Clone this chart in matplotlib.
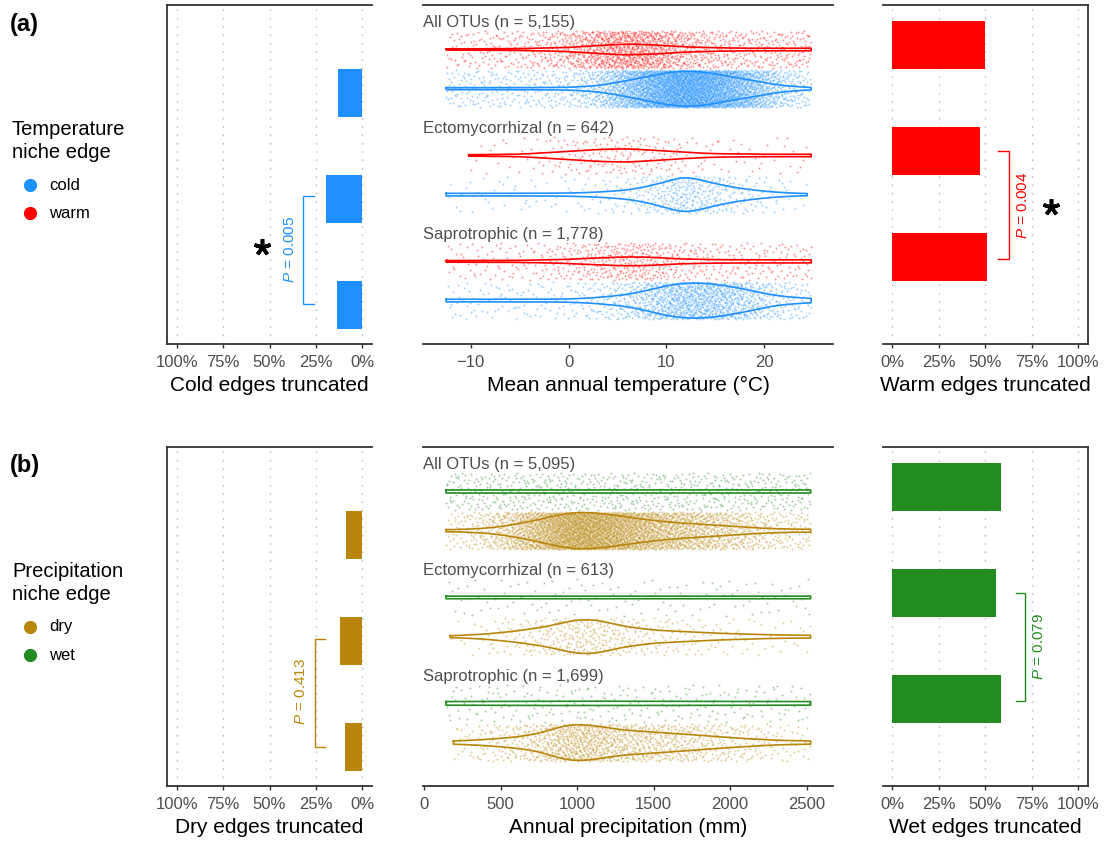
import numpy as np
import matplotlib
matplotlib.use("Agg")
import matplotlib.pyplot as plt
from matplotlib.lines import Line2D

plt.rcParams['font.family'] = ['Liberation Sans', 'DejaVu Sans']
plt.rcParams['mathtext.fontset'] = 'custom'
plt.rcParams['mathtext.it'] = 'Liberation Sans:italic'
plt.rcParams['mathtext.rm'] = 'Liberation Sans'

# ---------------- data ----------------
groups = ["All OTUs", "Ectomycorrhizal", "Saprotrophic"]
temp_n = ["5,155", "642", "1,778"]
precip_n = ["5,095", "613", "1,699"]

cold_trunc = [13.0, 19.5, 13.5]      # % cold edges truncated
warm_trunc = [49.7, 47.3, 51.1]      # % warm edges truncated
dry_trunc = [8.6, 11.9, 9.6]         # % dry edges truncated
wet_trunc = [58.2, 55.9, 58.2]       # % wet edges truncated

p_cold, p_warm, p_dry, p_wet = "0.005", "0.004", "0.413", "0.079"

# violin outlines: x knots and half-widths (pixels)
warm_all_x = [-12.5, -5, 0, 3, 6, 9, 12, 16, 20, 24.8]
warm_all_w = [0.6, 0.9, 2.0, 4.0, 5.5, 4.5, 2.5, 1.5, 1.2, 1.3]
cold_all_x = [-12.5, -5, 0, 3, 6, 8, 10, 12, 14, 16, 18, 20, 22, 24.8]
cold_all_w = [1, 1, 1.3, 3, 8, 12, 16, 18, 16.5, 13, 9.5, 6, 3, 1]
warm_ecm_x = [-10.2, -5, 0, 3, 6, 9, 12, 15, 20, 24.8]
warm_ecm_w = [0.7, 1.2, 4, 6, 6.7, 5, 3, 1.7, 1.2, 1.2]
cold_ecm_x = [-12.5, -5, 0, 3, 6, 8, 10, 11.7, 13, 15, 17, 19, 21, 23, 24.4]
cold_ecm_w = [1.3, 1.3, 1.5, 2.5, 4.5, 8, 13, 18, 16, 11, 7, 4.5, 2.5, 1.5, 1]
warm_sap_x = [-12.5, -5, 0, 3, 6, 9, 11, 15, 20, 24.8]
warm_sap_w = [0.8, 1, 2, 3.5, 4.5, 4, 2.5, 1.7, 1.5, 1.5]
cold_sap_x = [-12.5, -5, 0, 3, 6, 8, 10, 12, 14, 16, 18, 20, 22, 24.8]
cold_sap_w = [1.3, 1.3, 1.5, 3, 6, 10, 15, 17.7, 17.5, 15, 11.5, 7, 4, 2]

wet_all_x = [144, 1000, 2526]
wet_all_w = [1.5, 1.7, 1.5]
dry_all_x = [144, 300, 450, 600, 750, 900, 1000, 1100, 1250, 1400, 1600, 1800, 2000, 2200, 2400, 2526]
dry_all_w = [1, 1.5, 3, 6.5, 11, 16.5, 18.5, 18, 15.5, 12, 8.5, 6.5, 4.5, 2.5, 1.5, 1.5]
wet_ecm_x = [144, 1000, 2526]
wet_ecm_w = [1.3, 1.4, 1.3]
dry_ecm_x = [170, 400, 600, 800, 950, 1050, 1150, 1300, 1500, 1700, 1900, 2100, 2300, 2526]
dry_ecm_w = [0.8, 2.5, 5.5, 10, 15.5, 17.5, 16, 10.5, 6.5, 5, 3.5, 2.5, 1.7, 1.3]
wet_sap_x = [144, 1000, 2526]
wet_sap_w = [1.8, 2.2, 1.8]
dry_sap_x = [192, 400, 600, 750, 850, 950, 1050, 1150, 1300, 1500, 1700, 1900, 2100, 2300, 2526]
dry_sap_w = [1.5, 3, 5.5, 9, 14, 18, 18, 16, 12.5, 10.5, 8.5, 6, 4, 2.3, 1.5]

# approximate number of visible jittered points per cloud
cold_pts = [3800, 420, 1300]
warm_pts = [1500, 230, 600]
dry_pts = [3800, 430, 1250]
wet_pts = [650, 120, 240]

# ---------------- styling ----------------
COLD, WARM, DRY, WET = '#1E90FF', '#FF0000', '#B8860B', '#228B22'
SPINE = '#333333'
TICKC = '#4D4D4D'
W, H = 1107, 842
PX_PER_UNIT = 339 / 3.2

fig = plt.figure(figsize=(W / 100, H / 100), dpi=100)


def px_axes(x0, y0, x1, y1):
    return fig.add_axes([x0 / W, 1 - y1 / H, (x1 - x0) / W, (y1 - y0) / H])


def halton(idx, base):
    idx = np.asarray(idx, dtype=np.int64).copy()
    f = np.ones(len(idx))
    r = np.zeros(len(idx))
    while np.any(idx > 0):
        f = f / base
        r = r + f * (idx % base)
        idx = idx // base
    return r


def smooth_profile(kx, kw, n=500, sig=10):
    xs = np.linspace(kx[0], kx[-1], n)
    w = np.interp(xs, kx, kw)
    t = np.arange(-3 * sig, 3 * sig + 1)
    kern = np.exp(-0.5 * (t / sig) ** 2)
    kern /= kern.sum()
    wp = np.pad(w, 3 * sig, mode='edge')
    ws = np.convolve(wp, kern, mode='valid')
    return xs, ws


cloud_counter = [0]


def violin(ax, kx, kw, yc, color, npts):
    xs, ws = smooth_profile(kx, kw)
    half = ws / PX_PER_UNIT
    # jittered points following the outline density (deterministic sequence)
    start = 1 + 7919 * cloud_counter[0]
    cloud_counter[0] += 1
    idx = np.arange(start, start + npts)
    u = halton(idx, 2)
    v = halton(idx, 3)
    cdf = np.cumsum(ws)
    cdf = (cdf - cdf[0]) / (cdf[-1] - cdf[0])
    px = np.interp(u, cdf, xs)
    py = yc + (2 * v - 1) * 0.175
    ax.scatter(px, py, s=2.0, color=color, alpha=0.42, linewidths=0, zorder=2)
    xx = np.concatenate([xs, xs[::-1], xs[:1]])
    yy = np.concatenate([yc - half, (yc + half)[::-1], [yc - half[0]]])
    ax.plot(xx, yy, color=color, lw=1.2, zorder=3, solid_joinstyle='round')


def style_bar_axes(ax, side):
    ax.set_ylim(3.2, 0)
    ticks = [0, 0.25, 0.5, 0.75, 1.0]
    for t in ticks:
        ax.axvline(t, color='#BDBDBD', lw=1.0, ls=(0, (1.2, 4.8)), zorder=0)
    ax.set_xticks(ticks)
    ax.set_xticklabels(['0%', '25%', '50%', '75%', '100%'])
    if side == 'left':
        ax.set_xlim(1.052, -0.052)
        ax.spines['right'].set_visible(False)
    else:
        ax.set_xlim(-0.05, 1.052)
        ax.spines['left'].set_visible(False)
    common_axes(ax)


def common_axes(ax):
    for s in ax.spines.values():
        s.set_color(SPINE)
        s.set_linewidth(1.3)
    ax.set_yticks([])
    ax.tick_params(axis='x', length=3, width=1, color=SPINE, labelsize=12,
                   labelcolor=TICKC, pad=5)


def bracket(ax, xv, xt, y1, y2, color):
    ax.plot([xt, xv, xv, xt], [y1, y1, y2, y2], color=color, lw=1.0, zorder=4,
            solid_joinstyle='miter')


def ptext(ax, x, y, p, color):
    ax.text(x, y, r'$\it{P}$ = ' + p, rotation=90, color=color, fontsize=11,
            ha='center', va='center', zorder=5)


def star(ax, x, y):
    ax.plot([x], [y], marker=(5, 2, 0), ms=12, mew=2.6, color='black',
            linestyle='none', zorder=5)


gidx = np.arange(len(groups))

rows = [
    dict(top=5, bot=344, lo_c=COLD, hi_c=WARM, lo_v=cold_trunc, hi_v=warm_trunc,
         lo_lab='Cold edges truncated', hi_lab='Warm edges truncated',
         mid_lab='Mean annual temperature (\u00b0C)', ns=temp_n,
         xlim=(-14.87, 27.03), xticks=[-10, 0, 10, 20],
         hi_prof=[(warm_all_x, warm_all_w), (warm_ecm_x, warm_ecm_w), (warm_sap_x, warm_sap_w)],
         lo_prof=[(cold_all_x, cold_all_w), (cold_ecm_x, cold_ecm_w), (cold_sap_x, cold_sap_w)],
         hi_pts=warm_pts, lo_pts=cold_pts),
    dict(top=447, bot=786, lo_c=DRY, hi_c=WET, lo_v=dry_trunc, hi_v=wet_trunc,
         lo_lab='Dry edges truncated', hi_lab='Wet edges truncated',
         mid_lab='Annual precipitation (mm)', ns=precip_n,
         xlim=(-6.5, 2672), xticks=[0, 500, 1000, 1500, 2000, 2500],
         hi_prof=[(wet_all_x, wet_all_w), (wet_ecm_x, wet_ecm_w), (wet_sap_x, wet_sap_w)],
         lo_prof=[(dry_all_x, dry_all_w), (dry_ecm_x, dry_ecm_w), (dry_sap_x, dry_sap_w)],
         hi_pts=wet_pts, lo_pts=dry_pts),
]

axes_rows = []
for r in rows:
    axL = px_axes(167, r['top'], 372, r['bot'])
    axM = px_axes(423, r['top'], 833, r['bot'])
    axR = px_axes(883, r['top'], 1088, r['bot'])

    # left bars (cold / dry)
    axL.barh(gidx + 0.83, np.array(r['lo_v']) / 100, height=0.45, color=r['lo_c'],
             zorder=2)
    style_bar_axes(axL, 'left')
    axL.set_xlabel(r['lo_lab'], fontsize=15, labelpad=4, color='black')

    # right bars (warm / wet)
    axR.barh(gidx + 0.38, np.array(r['hi_v']) / 100, height=0.45, color=r['hi_c'],
             zorder=2)
    style_bar_axes(axR, 'right')
    axR.set_xlabel(r['hi_lab'], fontsize=15, labelpad=4, color='black')

    # middle violins
    for g in gidx:
        kx, kw = r['hi_prof'][g]
        violin(axM, kx, kw, g + 0.42, r['hi_c'], r['hi_pts'][g])
        kx, kw = r['lo_prof'][g]
        violin(axM, kx, kw, g + 0.79, r['lo_c'], r['lo_pts'][g])
        axM.text(0.0, g + 0.165, f"{groups[g]} (n = {r['ns'][g]})",
                 transform=axM.get_yaxis_transform(), ha='left', va='center',
                 fontsize=12, color=TICKC)
    axM.set_xlim(*r['xlim'])
    axM.set_ylim(3.2, 0)
    axM.set_xticks(r['xticks'])
    axM.spines['left'].set_visible(False)
    axM.spines['right'].set_visible(False)
    common_axes(axM)
    axM.set_xlabel(r['mid_lab'], fontsize=15, labelpad=4, color='black')
    axes_rows.append((axL, axM, axR))

# annotations
(aL, aM, aR), (bL, bM, bR) = axes_rows
bracket(aL, 0.319, 0.26, 1.80, 2.82, COLD)
ptext(aL, 0.39, 2.31, p_cold, COLD)
star(aL, 0.54, 2.283)

bracket(aR, 0.63, 0.566, 1.375, 2.395, WARM)
ptext(aR, 0.70, 1.89, p_warm, WARM)
star(aR, 0.853, 1.906)

bracket(bL, 0.256, 0.202, 1.81, 2.83, DRY)
ptext(bL, 0.328, 2.31, p_dry, DRY)

bracket(bR, 0.716, 0.663, 1.377, 2.40, WET)
ptext(bR, 0.786, 1.88, p_wet, WET)


# panel letters and legends
def ftext(x, y, s, **kw):
    fig.text(x / W, 1 - y / H, s, **kw)


def fdot(x, y, c):
    fig.add_artist(Line2D([x / W], [1 - y / H], transform=fig.transFigure,
                          marker='o', ms=8.5, color=c, linestyle='none'))


legends = [
    ('(a)', 'Temperature\nniche edge', [('cold', COLD), ('warm', WARM)], 0),
    ('(b)', 'Precipitation\nniche edge', [('dry', DRY), ('wet', WET)], 442),
]
for letter, title, items, off in legends:
    ftext(10, 24 + off, letter, fontsize=17, fontweight='bold', ha='left', va='center')
    ftext(12, 141 + off, title, fontsize=14.5, ha='left', va='center', linespacing=1.3)
    for i, (lab, c) in enumerate(items):
        yy = 185 + 28 * i + off
        fdot(30, yy, c)
        ftext(49, yy, lab, fontsize=12, ha='left', va='center')

fig.savefig('out.png', dpi=100)
